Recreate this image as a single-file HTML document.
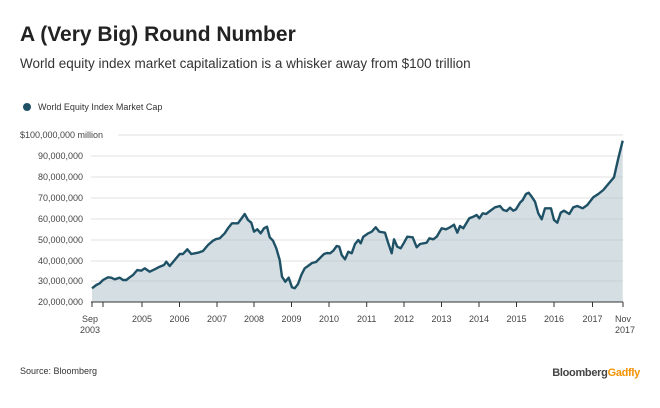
<!DOCTYPE html>
<html><head><style>
body{margin:0;background:#fff;width:660px;height:403px;overflow:hidden;font-family:"Liberation Sans",sans-serif;}
</style></head><body>
<svg width="660" height="403" xmlns="http://www.w3.org/2000/svg" font-family="Liberation Sans, sans-serif">
<text x="20" y="41" font-size="21" font-weight="bold" fill="#222">A (Very Big) Round Number</text>
<text x="20" y="68" font-size="13.5" fill="#333">World equity index market capitalization is a whisker away from $100 trillion</text>
<circle cx="27" cy="107" r="4" fill="#1f5166"/>
<text x="38" y="110" font-size="9" fill="#333">World Equity Index Market Cap</text>
<g stroke="#e6e6e6" stroke-width="1.3">
<line x1="118" y1="135" x2="623" y2="135"/>
<line x1="91" y1="156" x2="623" y2="156"/>
<line x1="91" y1="177" x2="623" y2="177"/>
<line x1="91" y1="198" x2="623" y2="198"/>
<line x1="91" y1="219" x2="623" y2="219"/>
<line x1="91" y1="240" x2="623" y2="240"/>
<line x1="91" y1="261" x2="623" y2="261"/>
<line x1="91" y1="281" x2="623" y2="281"/>
</g>
<g font-size="9" fill="#444" text-anchor="end">
<text x="20" y="138" text-anchor="start">$100,000,000 million</text>
<text x="83" y="159">90,000,000</text>
<text x="83" y="180">80,000,000</text>
<text x="83" y="201">70,000,000</text>
<text x="83" y="222">60,000,000</text>
<text x="83" y="243">50,000,000</text>
<text x="83" y="264">40,000,000</text>
<text x="83" y="284">30,000,000</text>
<text x="83" y="305">20,000,000</text>
</g>
<path d="M92,288.3 L96.3,285 L99.7,283.3 L103,280 L108,277.3 L111.3,277.7 L114.7,279.3 L119.7,277.7 L123,280 L126.3,280 L129.7,277.3 L133,275 L137.3,270 L141.3,270.7 L144.7,268.3 L149.7,271.7 L154.7,269.3 L159.7,266.7 L164,265 L166.3,261.7 L169.7,266 L174.7,260 L179.7,254 L183,254 L187.3,249.3 L191.3,254 L198,252.7 L203,251 L208,245 L213,240.7 L216.3,239 L219.7,238.3 L224.7,233.3 L228,228.3 L232,223.3 L238,223.3 L244.7,214 L248,220 L251.3,222.7 L254,231.7 L257.3,229.3 L260.7,233.3 L264,228.3 L267,226.7 L269.7,237.3 L273,240.7 L276.3,248.3 L279.7,260 L282,276.7 L285.3,281.7 L288.7,277.7 L292,287.3 L294.7,288.3 L298,284 L301.3,275 L304.7,268.3 L308,266 L312,263 L316,262 L320,258 L324,254 L327,253 L330,253.3 L333.3,250.7 L336.7,246 L339.3,246.7 L341.7,255 L345,259.3 L348.3,251.7 L351.7,253.3 L355,244 L358.3,240 L360.7,243.3 L363.3,236.7 L368.3,233.3 L371.7,231.7 L375.7,227.3 L379.3,231.7 L385,232.7 L388.3,243.3 L391.7,253.3 L394,239.3 L397.3,246.7 L400.7,248.3 L404,242.7 L407.3,236.7 L412.7,237.3 L416.7,247.3 L420,244 L426.7,242.7 L429.3,238.3 L433.3,239.3 L436.7,236.7 L441.7,228.3 L446,229.3 L450,227.3 L454,224.7 L457.3,232.7 L460,226 L463.3,228.3 L469.3,218.3 L473.3,216.7 L476.7,215 L479.3,218.3 L482.7,213.3 L486,214 L490,211 L495,207.3 L500,206 L503.3,210 L506.7,211 L510,207.7 L513.3,210.7 L516,209.3 L520,202.7 L522.7,200 L526,194 L528.7,192.7 L531.7,196.7 L535,201.7 L538.3,213.3 L541.7,219.3 L545,208.3 L551,208.3 L554,220 L557.3,222.7 L560.7,212.7 L564,210.7 L569.3,214 L573.3,207.3 L577.3,206 L582.7,208.3 L587.3,205 L593.3,197.3 L598.3,194 L603.3,190 L608.3,184 L614,177.3 L618.3,158.3 L622.7,140.7 L622.7,302 L92,302 Z" fill="#b3c3cb" fill-opacity="0.55"/>
<path d="M92,288.3 L96.3,285 L99.7,283.3 L103,280 L108,277.3 L111.3,277.7 L114.7,279.3 L119.7,277.7 L123,280 L126.3,280 L129.7,277.3 L133,275 L137.3,270 L141.3,270.7 L144.7,268.3 L149.7,271.7 L154.7,269.3 L159.7,266.7 L164,265 L166.3,261.7 L169.7,266 L174.7,260 L179.7,254 L183,254 L187.3,249.3 L191.3,254 L198,252.7 L203,251 L208,245 L213,240.7 L216.3,239 L219.7,238.3 L224.7,233.3 L228,228.3 L232,223.3 L238,223.3 L244.7,214 L248,220 L251.3,222.7 L254,231.7 L257.3,229.3 L260.7,233.3 L264,228.3 L267,226.7 L269.7,237.3 L273,240.7 L276.3,248.3 L279.7,260 L282,276.7 L285.3,281.7 L288.7,277.7 L292,287.3 L294.7,288.3 L298,284 L301.3,275 L304.7,268.3 L308,266 L312,263 L316,262 L320,258 L324,254 L327,253 L330,253.3 L333.3,250.7 L336.7,246 L339.3,246.7 L341.7,255 L345,259.3 L348.3,251.7 L351.7,253.3 L355,244 L358.3,240 L360.7,243.3 L363.3,236.7 L368.3,233.3 L371.7,231.7 L375.7,227.3 L379.3,231.7 L385,232.7 L388.3,243.3 L391.7,253.3 L394,239.3 L397.3,246.7 L400.7,248.3 L404,242.7 L407.3,236.7 L412.7,237.3 L416.7,247.3 L420,244 L426.7,242.7 L429.3,238.3 L433.3,239.3 L436.7,236.7 L441.7,228.3 L446,229.3 L450,227.3 L454,224.7 L457.3,232.7 L460,226 L463.3,228.3 L469.3,218.3 L473.3,216.7 L476.7,215 L479.3,218.3 L482.7,213.3 L486,214 L490,211 L495,207.3 L500,206 L503.3,210 L506.7,211 L510,207.7 L513.3,210.7 L516,209.3 L520,202.7 L522.7,200 L526,194 L528.7,192.7 L531.7,196.7 L535,201.7 L538.3,213.3 L541.7,219.3 L545,208.3 L551,208.3 L554,220 L557.3,222.7 L560.7,212.7 L564,210.7 L569.3,214 L573.3,207.3 L577.3,206 L582.7,208.3 L587.3,205 L593.3,197.3 L598.3,194 L603.3,190 L608.3,184 L614,177.3 L618.3,158.3 L622.7,140.7" fill="none" stroke="#1f5166" stroke-width="2.4" stroke-linejoin="round"/>
<line x1="91" y1="302" x2="623" y2="302" stroke="#333" stroke-width="1"/>
<g stroke="#333" stroke-width="1">
<line x1="92" y1="302" x2="92" y2="307"/><line x1="103" y1="302" x2="103" y2="307"/>
<line x1="142" y1="302" x2="142" y2="307"/><line x1="179.5" y1="302" x2="179.5" y2="307"/>
<line x1="217" y1="302" x2="217" y2="307"/><line x1="254" y1="302" x2="254" y2="307"/>
<line x1="291.5" y1="302" x2="291.5" y2="307"/><line x1="329" y1="302" x2="329" y2="307"/>
<line x1="366.7" y1="302" x2="366.7" y2="307"/><line x1="404" y1="302" x2="404" y2="307"/>
<line x1="441.5" y1="302" x2="441.5" y2="307"/><line x1="479" y1="302" x2="479" y2="307"/>
<line x1="516.5" y1="302" x2="516.5" y2="307"/><line x1="554" y1="302" x2="554" y2="307"/>
<line x1="592.5" y1="302" x2="592.5" y2="307"/><line x1="623" y1="302" x2="623" y2="307"/>
</g>
<g font-size="9" fill="#444" text-anchor="middle">
<text x="90" y="322">Sep</text><text x="90" y="333">2003</text>
<text x="142" y="322">2005</text><text x="179.5" y="322">2006</text>
<text x="217" y="322">2007</text><text x="254" y="322">2008</text>
<text x="291.5" y="322">2009</text><text x="329" y="322">2010</text>
<text x="366.7" y="322">2011</text><text x="404" y="322">2012</text>
<text x="441.5" y="322">2013</text><text x="479" y="322">2014</text>
<text x="516.5" y="322">2015</text><text x="554" y="322">2016</text>
<text x="592.5" y="322">2017</text>
<text x="623" y="322">Nov</text><text x="625" y="333">2017</text>
</g>
<text x="20" y="374" font-size="9" fill="#333">Source: Bloomberg</text>
<text x="640" y="376" font-size="11" font-weight="bold" text-anchor="end" letter-spacing="-0.3"><tspan fill="#444">Bloomberg</tspan><tspan fill="#f39200">Gadfly</tspan></text>
</svg>
</body></html>
